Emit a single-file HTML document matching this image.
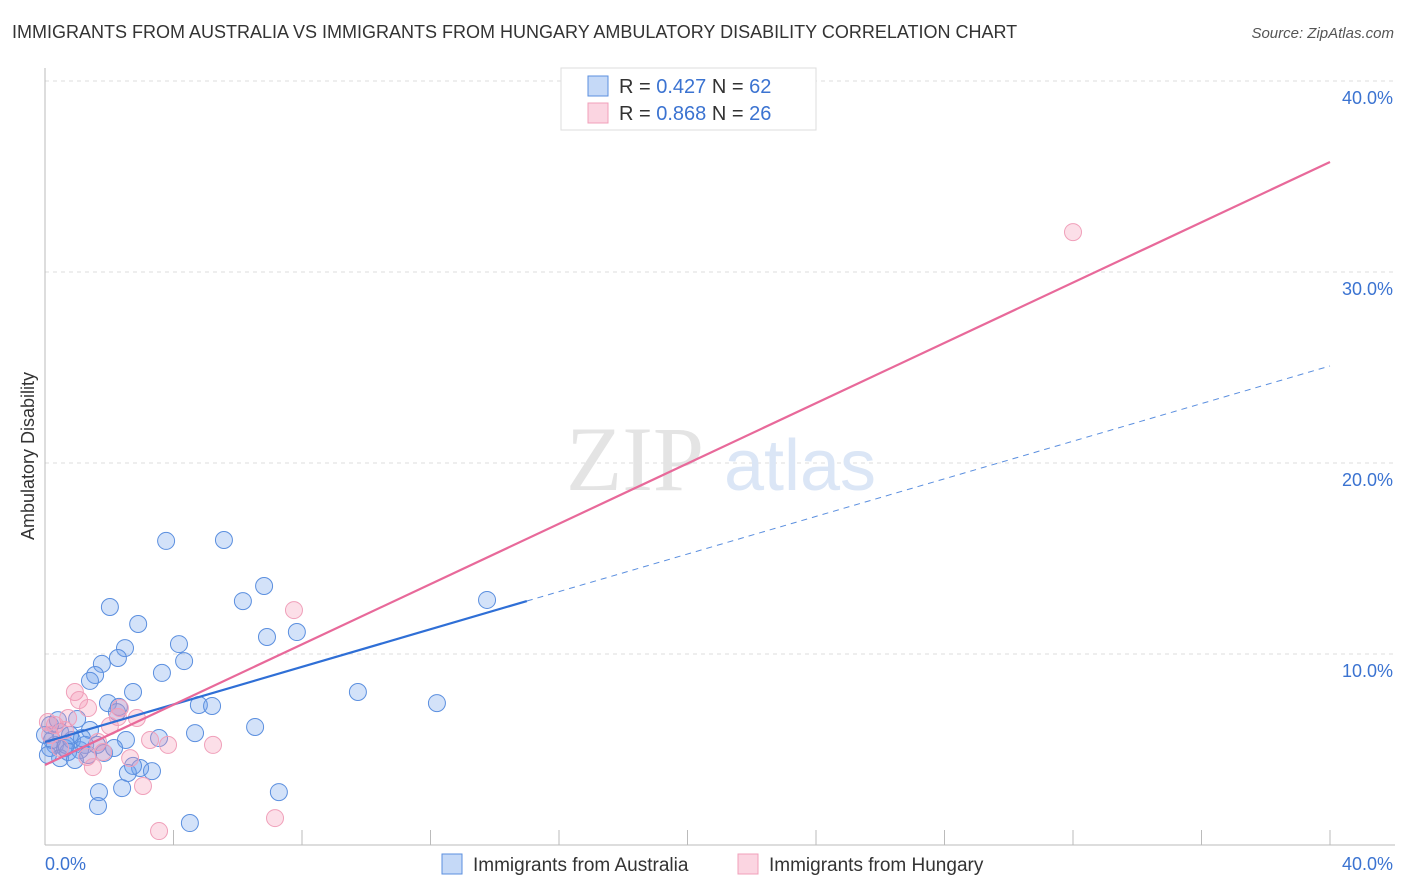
<!DOCTYPE html>
<html><head><meta charset="utf-8"><style>
body{margin:0;background:#fff;font-family:"Liberation Sans",sans-serif;}
#c{position:relative;width:1406px;height:892px;overflow:hidden}
.t{position:absolute;white-space:nowrap}
</style></head><body>
<div id="c">
<div class="t" style="left:12px;top:22px;font-size:18px;color:#333">IMMIGRANTS FROM AUSTRALIA VS IMMIGRANTS FROM HUNGARY AMBULATORY DISABILITY CORRELATION CHART</div>
<div class="t" style="right:12px;top:25px;font-size:15px;color:#555;font-style:italic">Source: ZipAtlas.com</div>
<svg id="s" width="1406" height="892" style="position:absolute;left:0;top:0"></svg>
</div>
<script>
const yTicks=[10,20,30,40];
const yTickLabels=["10.0%","20.0%","30.0%","40.0%"];
const xTickVals=[4,8,12,16,20,24,28,32,36,40];
const blueX=[3.77,5.57,6.82,2.02,6.16,2.90,7.84,6.91,4.17,2.49,4.33,1.77,2.27,3.64,1.56,1.40,2.74,9.74,1.96,2.30,4.79,5.20,12.20,13.76,6.54,4.67,3.55,2.52,1.00,1.40,0.47,0.31,0.62,0.84,1.09,1.84,0.16,0.47,0.72,1.25,1.62,0,0.16,2.96,3.33,2.58,2.74,7.28,1.68,1.65,2.40,4.51,2.24,1.34,0.93,0.22,0.40,0.65,1.15,2.15,0.78,0.09];
const blueY=[15.92,15.97,13.56,12.46,12.77,11.57,11.15,10.89,10.52,10.31,9.63,9.48,9.79,9.01,8.90,8.59,8.01,8.01,7.43,7.23,7.33,7.28,7.43,12.83,6.18,5.86,5.60,5.50,6.60,6.02,5.92,5.24,5.08,5.50,4.97,4.82,5.08,4.55,4.87,5.24,5.24,5.76,6.28,4.03,3.87,3.77,4.14,2.77,2.77,2.04,2.98,1.15,6.96,4.71,4.45,5.50,6.54,5.24,5.60,5.08,5.76,4.71];
const pinkX=[32.0,7.75,0.93,1.06,1.34,2.33,2.86,0.72,0.31,0.16,0.47,1.65,1.81,2.02,3.27,3.83,5.23,1.49,1.31,2.65,3.05,3.55,7.16,0.09,0.62,2.27];
const pinkY=[32.09,12.30,8.01,7.59,7.17,7.17,6.65,6.65,6.28,5.76,5.08,5.39,4.87,6.23,5.50,5.24,5.24,4.08,4.61,4.55,3.09,0.73,1.41,6.44,6.02,6.70];
const blueLine=[5.39,25.08]; // y at x=0 and x=40
const pinkLine=[4.19,35.76];
const blueSolidEnd=15.0;

const X=v=>45+v/40*1285, Y=v=>845-v*19.1;
const s=document.getElementById('s'),NS='http://www.w3.org/2000/svg';
function el(t,a,p){const e=document.createElementNS(NS,t);for(const k in a)e.setAttribute(k,a[k]);(p||s).appendChild(e);return e;}
yTicks.forEach((v,i)=>{
 const g=el('line',{x1:45,x2:1395,y1:Y(v),y2:Y(v),stroke:'#ddd','stroke-dasharray':'4,4'});
 
 
 const t=el('text',{x:1393,y:Y(v)+23,'text-anchor':'end','font-size':18,fill:'#3b73d1'});
 t.textContent=yTickLabels[i];
 
 
});
const ax=el('line',{x1:45,x2:1395,y1:845,y2:845,stroke:'#bbb'});


const ay=el('line',{x1:45,x2:45,y1:68,y2:845,stroke:'#bbb'});


xTickVals.forEach(v=>{
 const l=el('line',{x1:X(v),x2:X(v),y1:830,y2:845,stroke:'#bbb'});
 
 
});
[['0.0%',45,'start'],['40.0%',1393,'end']].forEach(a=>{
 const t=el('text',{x:a[1],y:870,'text-anchor':a[2],'font-size':18,fill:'#3b73d1'});
 t.textContent=a[0];
 
 
});
const yt=el('text',{x:34,y:456,'text-anchor':'middle','font-size':18,fill:'#333',transform:'rotate(-90 34 456)'});
yt.textContent='Ambulatory Disability';


const w1=el('text',{x:635,y:490,'text-anchor':'middle','font-size':92,fill:'#e4e4e4','font-family':'Liberation Serif'});
w1.textContent='ZIP';


const w2=el('text',{x:800,y:490,'text-anchor':'middle','font-size':72,fill:'#dbe6f6'});
w2.textContent='atlas';


blueX.forEach((v,i)=>{
 const c=el('circle',{cx:X(v),cy:Y(blueY[i]),r:8.5,fill:'rgba(110,160,235,0.3)',stroke:'#5b8fdf','stroke-width':1});
 
 
});
pinkX.forEach((v,i)=>{
 const c=el('circle',{cx:X(v),cy:Y(pinkY[i]),r:8.5,fill:'rgba(245,150,180,0.3)',stroke:'#f0a0ba','stroke-width':1});
 
 
});
const bAt=x=>blueLine[0]+(blueLine[1]-blueLine[0])*x/40;
const bs=el('line',{x1:X(0),y1:Y(bAt(0)),x2:X(blueSolidEnd),y2:Y(bAt(blueSolidEnd)),stroke:'#2f6fd6','stroke-width':2.2});


const bd=el('line',{x1:X(blueSolidEnd),y1:Y(bAt(blueSolidEnd)),x2:X(40),y2:Y(bAt(40)),stroke:'#5b8fdf','stroke-width':1,'stroke-dasharray':'6,5'});


const pl=el('line',{x1:X(0),y1:Y(pinkLine[0]),x2:X(40),y2:Y(pinkLine[1]),stroke:'#e8699a','stroke-width':2.2});


// legend top
const lb=el('rect',{x:561,y:68,width:255,height:62,fill:'#fff',stroke:'#ddd'});


[[86,'rgba(110,160,235,0.4)','#5b8fdf','0.427','62'],[113,'rgba(245,150,180,0.4)','#f0a0ba','0.868','26']].forEach(r=>{
 const q=el('rect',{x:588,y:r[0]-10,width:20,height:20,fill:r[1],stroke:r[2]});
 
 
 const t=el('text',{x:619,y:r[0]+7,'font-size':20,fill:'#333'});
 t.innerHTML='R = <tspan fill="#3b73d1">'+r[3]+'</tspan>   N = <tspan fill="#3b73d1">'+r[4]+'</tspan>';
 t.setAttribute('xml:space','preserve');
 
 
});
[[442,'rgba(110,160,235,0.4)','#5b8fdf','Immigrants from Australia'],[738,'rgba(245,150,180,0.4)','#f0a0ba','Immigrants from Hungary']].forEach(r=>{
 const q=el('rect',{x:r[0],y:854,width:20,height:20,fill:r[1],stroke:r[2]});
 
 
 const t=el('text',{x:r[0]+31,y:871,'font-size':19,fill:'#333'});
 t.textContent=r[3];
 
 
});
</script>
</body></html>
